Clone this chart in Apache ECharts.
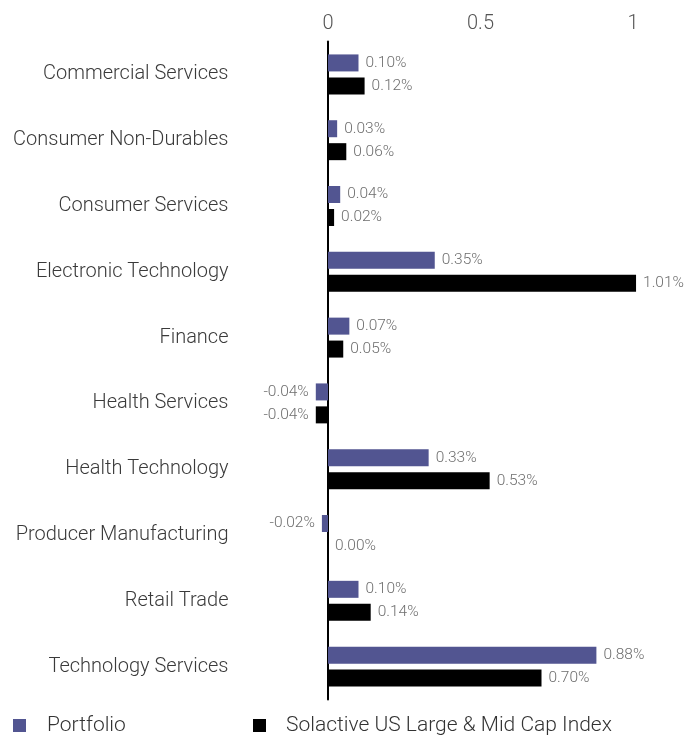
<!DOCTYPE html>
<html><head><meta charset="utf-8">
<script src="https://cdn.jsdelivr.net/npm/echarts@6/dist/echarts.min.js"></script>
<style>html,body{margin:0;padding:0;background:#fff}#c{width:699px;height:737px}</style>
</head><body><div id="c"></div>
<script>
const categories = ["Commercial Services","Consumer Non-Durables","Consumer Services","Electronic Technology","Finance","Health Services","Health Technology","Producer Manufacturing","Retail Trade","Technology Services"];
const portfolio = [0.10,0.03,0.04,0.35,0.07,-0.04,0.33,-0.02,0.10,0.88];
const benchmark = [0.12,0.06,0.02,1.01,0.05,-0.04,0.53,0.00,0.14,0.70];
const xTicks = [0,0.5,1];
const FONT = 'Roboto';
function mk(arr){return arr.map(v=>({value:v,label:{position:v<0?'left':'right'}}));}
const lbl = {show:true,distance:7,fontFamily:FONT,fontWeight:300,fontSize:15.5,color:'#6e6e6e',formatter:p=>p.value.toFixed(2)+'%'};
const chart = echarts.init(document.getElementById('c'));
chart.setOption({
  animation:false,
  grid:{left:236.5,right:5,top:41.5,bottom:37.5,containLabel:false},
  xAxis:{type:'value',position:'top',min:-0.3,max:1.2,
    axisLine:{show:false},axisTick:{show:false},splitLine:{show:false},
    axisLabel:{customValues:xTicks,fontFamily:FONT,fontWeight:300,fontSize:20,color:'#555',margin:8}},
  yAxis:{type:'category',inverse:true,data:categories,
    axisLine:{show:true,onZero:true,lineStyle:{color:'#000',width:2}},
    axisTick:{show:false},
    axisLabel:{fontFamily:FONT,fontWeight:300,fontSize:20,color:'#3a3a3a',margin:8,padding:[3,0,0,0]}},
  legend:[
    {data:['Portfolio'],left:8,top:710,icon:'rect',itemWidth:13,itemHeight:13,
     textStyle:{fontFamily:FONT,fontWeight:300,fontSize:21,color:'#333',padding:[0,0,0,16]}},
    {data:['Solactive US Large & Mid Cap Index'],left:248,top:710,icon:'rect',itemWidth:13,itemHeight:13,
     textStyle:{fontFamily:FONT,fontWeight:300,fontSize:21,color:'#333',padding:[0,0,0,15]}}
  ],
  series:[
    {name:'Portfolio',type:'bar',data:mk(portfolio),barWidth:17,barGap:'35%',itemStyle:{color:'#525591'},label:lbl},
    {name:'Solactive US Large & Mid Cap Index',type:'bar',data:mk(benchmark),barWidth:17,itemStyle:{color:'#000'},label:lbl}
  ]
});
</script></body></html>
